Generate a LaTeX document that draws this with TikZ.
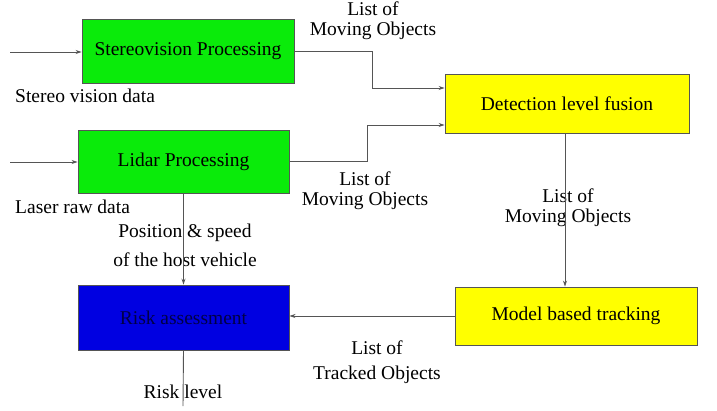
\documentclass[tikz,border=0pt]{standalone}
\usepackage{fontspec}
\setmainfont{Liberation Serif}
\usepackage{tikz}
\usetikzlibrary{arrows.meta}
\usetikzlibrary{calc}

\definecolor{procgreen}{RGB}{10,235,10}
\definecolor{fuseyellow}{RGB}{255,255,0}
\definecolor{riskblue}{RGB}{0,0,225}
\definecolor{edgegray}{RGB}{85,85,85}

\tikzset{
	block/.style={draw=edgegray, line width=0.9pt, inner sep=0pt, font=\fontsize{19.5}{20}\selectfont},
	lbl/.style={align=center, inner sep=0pt, font=\fontsize{19.5}{20}\selectfont},
	flow/.style={draw=edgegray, line width=0.9pt, -{Stealth[length=6pt,width=4pt]}}
}

\begin{document}
\begin{tikzpicture}[x=1pt, y=-1pt]
	\useasboundingbox (0,0) rectangle (717,410);
	
	\node[block, fill=procgreen, minimum width=212pt, minimum height=64pt] (stereo) at (188,51) {Stereovision Processing};
	\node[block, fill=procgreen, minimum width=211pt, minimum height=63pt] (lidar) at (183.5,161.5) {Lidar Processing};
	\node[block, fill=fuseyellow, minimum width=244pt, minimum height=59pt] (fusion) at (567,103.5) {Detection level fusion};
	\node[block, fill=riskblue, text={rgb,255:red,0;green,0;blue,70}, minimum width=211pt, minimum height=65pt] (risk) at (183.5,317.5) {Risk assessment};
	\node[block, fill=fuseyellow, minimum width=242pt, minimum height=58pt] (model) at (576,316) {Model based tracking};
	
	\coordinate (stereoin) at (10,52);
	\coordinate (lidarin) at (10,162);
	\coordinate (riskout) at (183,406);
	
	\node[lbl, anchor=west] (stereodata) at (15,96) {Stereo vision data};
	\node[lbl, anchor=west] (laserdata) at (15,207) {Laser raw data};
	\node[lbl] (movstereo) at (373,21) {List of\\Moving Objects};
	\node[lbl] (movlidar) at (365,191) {List of\\Moving Objects};
	\node[lbl] (movfused) at (568,208) {List of\\Moving Objects};
	\node[lbl] (hostveh) at (185,233) {Position \& speed};
	\node[lbl] (hostveh2) at (185,260) {of the host vehicle};
	\node[lbl] (tracked) at (377,348) {List of};
	\node[lbl] (tracked2) at (377,375) {Tracked Objects};
	\node[lbl] (risklevel) at (183,392) {Risk level};
	
	\draw[flow] (stereoin) -- (stereo.west |- stereoin);
	\draw[flow] (lidarin) -- (lidar.west |- lidarin);
	\draw[flow] (stereo.east) -- (372,51) |- ([yshift=15.5pt]fusion.west);
	\draw[flow] (lidar.east) -- (367,161.5) |- ([yshift=-21.5pt]fusion.west);
	\draw[flow] ([xshift=-2pt]fusion.south) -- ([xshift=-2pt]fusion.south |- model.north);
	\draw[flow] (lidar.south) -- (risk.north);
	\draw[flow] (model.west) -- (model.west -| risk.east);
	\draw[draw=edgegray, line width=0.9pt] (risk.south) -- (riskout);
\end{tikzpicture}
\end{document}
